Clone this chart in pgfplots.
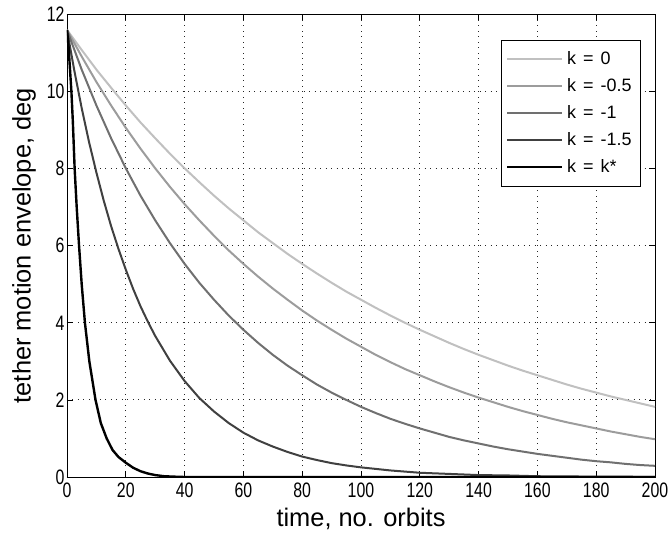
\documentclass[border=0pt]{standalone}
\usepackage{fontspec}
\setmainfont{Liberation Sans}
\newfontfamily\tickfont[FakeStretch=0.76]{Liberation Sans}
\usepackage{xcolor}
\usepackage{tikz}
\usepackage{pgfplots}
\pgfplotsset{compat=1.18}

\definecolor{kzero}{RGB}{192,192,192}
\definecolor{khalf}{RGB}{156,156,156}
\definecolor{kone}{RGB}{112,112,112}
\definecolor{konehalf}{RGB}{64,64,64}
\newcommand\legsp{\hspace{7bp}}

\begin{document}
\begin{tikzpicture}
\begin{axis}[
    scale only axis,
    width=588bp,
    height=462.5bp,
    xmin=0, xmax=200,
    ymin=0, ymax=12,
    xtick={0,20,...,200},
    ytick={0,2,...,12},
    enlarge x limits=false,
    tick align=inside,
    major tick length=6bp,
    tick style={black, line width=0.7bp},
    axis line style={line width=0.8bp},
    grid=major,
    major grid style={black!85, line width=0.9bp, dash pattern=on 0.9bp off 4.6bp},
    /pgf/number format/assume math mode=true,
    ticklabel style={font=\tickfont\fontsize{21}{21}\selectfont},
    xticklabel style={yshift=-2bp},
    yticklabel style={xshift=1bp},
    xlabel={time, no. orbits},
    ylabel={tether motion envelope, deg},
    label style={font=\fontsize{25.5}{26}\selectfont},
    xlabel style={at={(axis description cs:0.5,-0.108)}, anchor=base},
    ylabel style={at={(axis description cs:-0.062,0.5)}, anchor=base},
    legend style={
        at={(0.976,0.945)}, anchor=north east,
        draw=black, line width=0.8bp,
        inner xsep=5bp, inner ysep=5.5bp,
        font=\fontsize{18}{18}\selectfont,
        nodes={text height=12.5bp, text depth=2.5bp, inner ysep=6bp, inner xsep=4bp},
        cells={anchor=west},
    },
    legend image code/.code={\draw[#1, line width=2bp] (0bp,0bp) -- (55bp,0bp);},
    every axis plot/.append style={line width=2bp, line join=round},
]
\coordinate (sw) at (rel axis cs:0,0);
\coordinate (ne) at (rel axis cs:1,1);

\addplot[kzero, no marks] coordinates {
(0,11.60) (5,11.08) (10,10.57) (15,10.10) (20,9.64) (25,9.20) (30,8.79) (35,8.39)
(40,8.01) (45,7.65) (50,7.30) (55,6.97) (60,6.66) (65,6.35) (70,6.07) (75,5.79)
(80,5.53) (85,5.28) (90,5.04) (95,4.81) (100,4.60) (105,4.39) (110,4.19) (115,4.00)
(120,3.82) (125,3.65) (130,3.48) (135,3.32) (140,3.17) (145,3.03) (150,2.89) (155,2.76)
(160,2.64) (165,2.52) (170,2.40) (175,2.29) (180,2.19) (185,2.09) (190,2.00) (195,1.91)
(200,1.82)};
\addlegendentry{k\legsp=\legsp0}

\addplot[khalf, no marks] coordinates {
(0,11.60) (5,10.91) (10,10.25) (15,9.64) (20,9.06) (25,8.52) (30,8.01) (35,7.53)
(40,7.08) (45,6.66) (50,6.26) (55,5.88) (60,5.53) (65,5.20) (70,4.89) (75,4.60)
(80,4.32) (85,4.06) (90,3.82) (95,3.59) (100,3.38) (105,3.17) (110,2.98) (115,2.80)
(120,2.64) (125,2.48) (130,2.33) (135,2.19) (140,2.06) (145,1.94) (150,1.82) (155,1.71)
(160,1.61) (165,1.51) (170,1.42) (175,1.34) (180,1.26) (185,1.18) (190,1.11) (195,1.04)
(200,0.98)};
\addlegendentry{k\legsp=\legsp-0.5}

\addplot[kone, no marks] coordinates {
(0,11.60) (5,10.57) (10,9.64) (15,8.79) (20,8.01) (25,7.30) (30,6.66) (35,6.07)
(40,5.53) (45,5.04) (50,4.60) (55,4.19) (60,3.82) (65,3.48) (70,3.17) (75,2.89)
(80,2.64) (85,2.40) (90,2.19) (95,2.00) (100,1.82) (105,1.66) (110,1.51) (115,1.38)
(120,1.26) (125,1.15) (130,1.04) (135,0.95) (140,0.87) (145,0.79) (150,0.72) (155,0.66)
(160,0.60) (165,0.55) (170,0.50) (175,0.45) (180,0.41) (185,0.38) (190,0.34) (195,0.31)
(200,0.29)};
\addlegendentry{k\legsp=\legsp-1}

\addplot[konehalf, no marks] coordinates {
(0,11.60) (2.5,10.54) (5,9.57) (7.5,8.69) (10,7.90) (12.5,7.17) (15,6.51) (17.5,5.92)
(20,5.38) (22.5,4.88) (25,4.43) (27.5,4.03) (30,3.66) (35,3.02) (40,2.49) (45,2.05)
(50,1.70) (55,1.40) (60,1.15) (65,0.95) (70,0.79) (75,0.65) (80,0.53) (85,0.44)
(90,0.36) (95,0.30) (100,0.25) (110,0.17) (120,0.11) (130,0.08) (140,0.05) (150,0.04)
(160,0.02) (170,0.015) (180,0.01) (190,0.007) (200,0.005)};
\addlegendentry{k\legsp=\legsp-1.5}

\addplot[black, no marks, line width=2.4bp] coordinates {
(0,11.60) (0.5,11.2) (1,10.6) (1.5,10.0) (2,9.2) (2.6,8.0) (3.3,7.0) (4.1,6.0)
(5,5.0) (6.1,4.0) (7.6,3.0) (9.7,2.0) (11.5,1.4) (13.5,1.0) (15.5,0.7) (17.5,0.52)
(20,0.37) (22.5,0.24) (25,0.15) (27.5,0.09) (30,0.05) (33,0.02) (36,0.01) (40,0)
(200,0)};
\addlegendentry{k\legsp=\legsp k*}
\end{axis}
\pgfresetboundingbox
\path[use as bounding box] ([shift={(-67bp,-59bp)}]sw) rectangle ([shift={(14bp,14.5bp)}]ne);
\end{tikzpicture}
\end{document}
